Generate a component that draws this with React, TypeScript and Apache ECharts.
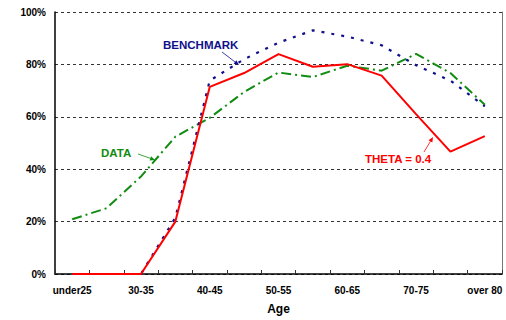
import React, { useEffect, useRef } from "react";
import * as echarts from "echarts";

const categories = ["under25", "25-30", "30-35", "35-40", "40-45", "45-50", "50-55", "55-60", "60-65", "65-70", "70-75", "75-80", "over 80"];
const thetaValues = [0, 0, 0, 20, 71.4, 76.7, 83.9, 79.1, 80.1, 75.7, 61, 46.7, 52.6];
const benchmarkValues = [0, 0, 0, 21.5, 73.8, 82, 88.3, 93, 90.6, 87.3, 79.7, 73.8, 64];
const dataValues = [20.9, 25.1, 37.2, 52.4, 59.6, 69.5, 76.9, 75.2, 79.5, 77.6, 84, 76.7, 64.6];
const yTicks = [0, 20, 40, 60, 80, 100];

const FONT = "'Liberation Sans', Arial, Helvetica, sans-serif";

function arrow(x1: number, y1: number, x2: number, y2: number, color: string) {
  const dx = x2 - x1;
  const dy = y2 - y1;
  const len = Math.sqrt(dx * dx + dy * dy);
  const ux = dx / len;
  const uy = dy / len;
  const hl = 5;
  const hw = 2.2;
  const bx = x2 - ux * hl;
  const by = y2 - uy * hl;
  return [
    { type: "line", shape: { x1, y1, x2: bx, y2: by }, style: { stroke: color, lineWidth: 0.8 }, z: 100 },
    {
      type: "polygon",
      shape: { points: [[x2, y2], [bx - uy * hw, by + ux * hw], [bx + uy * hw, by - ux * hw]] },
      style: { fill: color },
      z: 100,
    },
  ];
}

export default function App() {
  const ref = useRef<HTMLDivElement>(null);
  useEffect(() => {
    document.body.style.margin = "0";
    const chart = echarts.init(ref.current!, undefined, { renderer: "svg" });
    const navy = "#10108c";
    const green = "#108c10";
    const red = "#ff0000";
    chart.setOption({
      animation: false,
      grid: { left: 55, right: 4, top: 12, bottom: 45 },
      xAxis: {
        type: "category",
        data: categories,
        boundaryGap: true,
        name: "Age",
        nameLocation: "middle",
        nameGap: 29,
        nameTextStyle: { fontFamily: FONT, fontWeight: "bold", fontSize: 12, color: "#000", verticalAlign: "top" },
        axisLine: { lineStyle: { color: "#000", width: 1.5 } },
        axisTick: { show: true, inside: true, length: 4, interval: 0, lineStyle: { color: "#333" } },
        axisLabel: { interval: 1, margin: 11, fontFamily: FONT, fontWeight: "bold", fontSize: 10, color: "#000" },
        splitLine: { show: false },
      },
      yAxis: [
        {
          type: "value",
          min: 0,
          max: 100,
          interval: 20,
          axisLine: { show: true, lineStyle: { color: "#000", width: 1.5 } },
          axisTick: { show: false },
          axisLabel: {
            margin: 9,
            fontFamily: FONT,
            fontWeight: "bold",
            fontSize: 10,
            color: "#000",
            formatter: (v: number) => (yTicks.includes(v) ? v + "%" : ""),
          },
          splitLine: { show: true, lineStyle: { color: "#333", type: [3, 3], width: 1 } },
        },
        {
          type: "value",
          position: "right",
          min: 0,
          max: 100,
          interval: 20,
          axisLine: { show: true, lineStyle: { color: "#777", width: 1 } },
          axisTick: { show: false },
          axisLabel: { show: false },
          splitLine: { show: false },
        },
      ],
      series: [
        {
          name: "DATA",
          type: "line",
          data: dataValues,
          symbol: "none",
          lineStyle: { color: green, width: 2, type: [10, 4, 2, 4] },
          z: 2,
        },
        {
          name: "BENCHMARK",
          type: "line",
          data: benchmarkValues,
          symbol: "none",
          lineStyle: { color: navy, width: 2.2, type: [3, 7] },
          z: 3,
        },
        {
          name: "THETA = 0.4",
          type: "line",
          data: thetaValues,
          symbol: "none",
          lineStyle: { color: red, width: 2 },
          z: 4,
        },
      ],
      graphic: [
        {
          type: "text",
          left: 163,
          top: 39,
          style: { text: "BENCHMARK", fill: navy, font: `bold 11.5px ${FONT}` },
          z: 100,
        },
        {
          type: "text",
          left: 101,
          top: 147,
          style: { text: "DATA", fill: green, font: `bold 11.5px ${FONT}` },
          z: 100,
        },
        {
          type: "text",
          left: 365,
          top: 153,
          style: { text: "THETA = 0.4", fill: red, font: `bold 11.5px ${FONT}` },
          z: 100,
        },
        ...arrow(222, 52, 239, 65, navy),
        ...arrow(138, 154, 155, 160, green),
        ...arrow(424, 152, 433, 137, red),
      ],
    });
    return () => chart.dispose();
  }, []);
  return <div ref={ref} style={{ width: 506, height: 320 }} />;
}
